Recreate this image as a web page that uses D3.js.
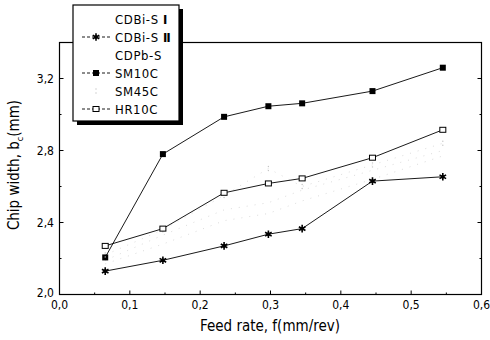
<!DOCTYPE html>
<html>
<head>
<meta charset="utf-8">
<script src="https://cdn.jsdelivr.net/npm/d3@7"></script>
<style>
  body { margin: 0; background: #fff; }
  svg { font-family: 'Liberation Sans Narrow', 'DejaVu Sans Condensed', 'Liberation Sans', sans-serif; }
</style>
</head>
<body>
<div id="chart"></div>
<script>
// Chip width vs feed rate
var feedRates = [0.065, 0.147, 0.234, 0.297, 0.345, 0.445, 0.545]
var cdbiS1 = [2.17, 2.28, 2.41, 2.45, 2.52, 2.64, 2.77]
var cdbiS2 = [2.13, 2.19, 2.27, 2.335, 2.366, 2.63, 2.654]
var cdpbS = [2.19, 2.33, 2.47, 2.51, 2.58, 2.69, 2.80]
var sm10c = [2.206, 2.78, 2.987, 3.046, 3.062, 3.13, 3.26]
var sm45c = [2.22, 2.36, 2.55, 2.70, 2.60, 2.72, 2.84]
var hr10c = [2.27, 2.366, 2.565, 2.617, 2.645, 2.76, 2.915]
var xTicks = [0, 0.1, 0.2, 0.3, 0.4, 0.5, 0.6]
var yTicks = [2.0, 2.4, 2.8, 3.2]

var series = [
  { name: 'CDBi-S ', roman: 'Ⅰ', values: cdbiS1, marker: 'none', faint: true },
  { name: 'CDBi-S ', roman: 'Ⅱ', values: cdbiS2, marker: 'star' },
  { name: 'CDPb-S', roman: '', values: cdpbS, marker: 'none', faint: true },
  { name: 'SM10C', roman: '', values: sm10c, marker: 'filled' },
  { name: 'SM45C', roman: '', values: sm45c, marker: 'dots', faint: true },
  { name: 'HR10C', roman: '', values: hr10c, marker: 'open' }
]

var width = 490
var height = 340

var svg = d3.select('#chart').append('svg')
  .attr('width', width)
  .attr('height', height)

var x = d3.scaleLinear().domain([0, 0.6]).range([59.5, 481.5])
var y = d3.scaleLinear().domain([2.0, 3.4]).range([294.5, 42.5])
var comma = v => d3.format('.1f')(v).replace('.', ',')

// frame
svg.append('rect')
  .attr('x', x(0)).attr('y', y(3.4))
  .attr('width', x(0.6) - x(0)).attr('height', y(2.0) - y(3.4))
  .attr('fill', 'none').attr('stroke', '#000').attr('stroke-width', 1.2)

// inside ticks, major + minor
var ticks = svg.append('g').attr('stroke', '#000').attr('stroke-width', 1)
d3.range(0.05, 0.6, 0.05).forEach(function (t, i) {
  var len = (i % 2 === 1) ? 4 : 2
  ticks.append('line').attr('x1', x(t)).attr('x2', x(t)).attr('y1', y(2.0)).attr('y2', y(2.0) - len)
})
d3.range(2.2, 3.39, 0.2).forEach(function (t, i) {
  var len = (i % 2 === 1) ? 4 : 2
  ticks.append('line').attr('x1', x(0)).attr('x2', x(0) + len).attr('y1', y(t)).attr('y2', y(t))
  ticks.append('line').attr('x1', x(0.6)).attr('x2', x(0.6) - len).attr('y1', y(t)).attr('y2', y(t))
})

// tick labels
svg.append('g').selectAll('text')
  .data(xTicks)
  .join('text')
  .attr('x', d => x(d))
  .attr('y', 309)
  .attr('text-anchor', 'middle')
  .attr('font-size', 12)
  .text(d => comma(d))

svg.append('g').selectAll('text')
  .data(yTicks)
  .join('text')
  .attr('x', 54)
  .attr('y', d => y(d) + (d === 2.0 ? 2 : 4))
  .attr('text-anchor', 'end')
  .attr('font-size', 12)
  .text(d => comma(d))

// axis titles
svg.append('text')
  .attr('x', 270).attr('y', 331)
  .attr('text-anchor', 'middle')
  .attr('font-size', 15)
  .text('Feed rate, f(mm/rev)')

var yt = svg.append('text')
  .attr('transform', 'translate(19,' + 165 + ') rotate(-90)')
  .attr('text-anchor', 'middle')
  .attr('font-size', 15)
yt.append('tspan').text('Chip width, b')
yt.append('tspan').attr('font-size', 9).attr('dy', 4).text('c')
yt.append('tspan').attr('dy', -4).text('(mm)')

// markers
function drawMarker (sel, type, cx, cy) {
  if (type === 'filled') {
    sel.append('rect').attr('x', cx - 3).attr('y', cy - 3).attr('width', 6).attr('height', 6).attr('fill', '#000')
  } else if (type === 'open') {
    sel.append('rect').attr('x', cx - 3).attr('y', cy - 2.5).attr('width', 6).attr('height', 5)
      .attr('fill', '#fff').attr('stroke', '#000').attr('stroke-width', 1)
  } else if (type === 'star') {
    sel.append('path').attr('d', d3.symbol(d3.symbolAsterisk, 40)())
      .attr('transform', 'translate(' + cx + ',' + cy + ')')
      .attr('stroke', '#000').attr('stroke-width', 1.6).attr('fill', 'none')
    sel.append('circle').attr('cx', cx).attr('cy', cy).attr('r', 1.8).attr('fill', '#000')
  } else if (type === 'dots') {
    sel.append('circle').attr('cx', cx).attr('cy', cy - 2).attr('r', 0.7).attr('fill', '#c4c4c4')
    sel.append('circle').attr('cx', cx).attr('cy', cy + 2).attr('r', 0.7).attr('fill', '#c4c4c4')
  }
}

var line = d3.line().x((d, i) => x(feedRates[i])).y(d => y(d))
var plot = svg.append('g')

// faint dotted series first, so the solid ones sit on top
series.filter(s => s.faint).forEach(function (s) {
  plot.append('path')
    .attr('d', line(s.values))
    .attr('fill', 'none')
    .attr('stroke', '#d2d2d2')
    .attr('stroke-width', 0.8)
    .attr('stroke-dasharray', '1,7')
})
series.filter(s => !s.faint).forEach(function (s) {
  plot.append('path')
    .attr('d', line(s.values))
    .attr('fill', 'none')
    .attr('stroke', '#000')
    .attr('stroke-width', 0.9)
})
series.forEach(function (s) {
  var g = plot.append('g')
  s.values.forEach(function (v, i) { drawMarker(g, s.marker, x(feedRates[i]), y(v)) })
})

// legend with drop shadow
var lg = svg.append('g')
lg.append('rect').attr('x', 77).attr('y', 9).attr('width', 106).attr('height', 116).attr('fill', '#000')
lg.append('rect').attr('x', 73).attr('y', 5).attr('width', 106).attr('height', 116)
  .attr('fill', '#fff').attr('stroke', '#000').attr('stroke-width', 1.2)

series.forEach(function (s, i) {
  var ry = 19 + i * 18
  if (s.marker !== 'none') {
    if (s.marker !== 'dots') {
      lg.append('line').attr('x1', 82).attr('x2', 110).attr('y1', ry).attr('y2', ry)
        .attr('stroke', '#000').attr('stroke-width', 0.9).attr('stroke-dasharray', '3,2')
    }
    drawMarker(lg, s.marker, 96, ry)
  }
  var t = lg.append('text').attr('x', 115).attr('y', ry + 4.5).attr('font-size', 13)
    .attr('letter-spacing', 0.6)
  t.append('tspan').text(s.name)
  if (s.roman) t.append('tspan').attr('font-weight', 'bold').text(s.roman)
})
</script>
</body>
</html>
